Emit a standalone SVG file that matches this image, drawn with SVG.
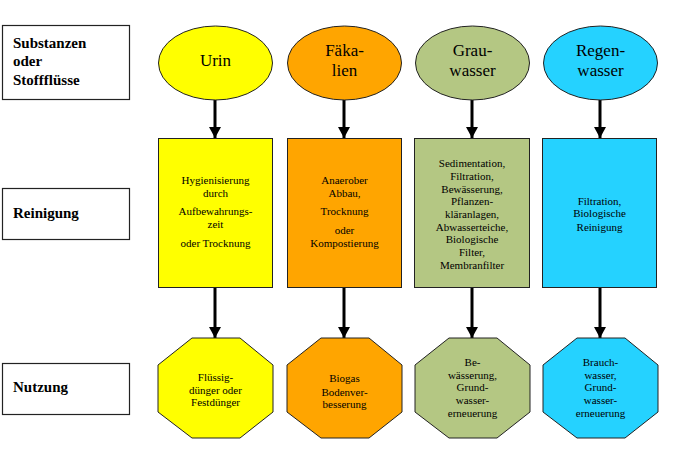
<svg xmlns="http://www.w3.org/2000/svg" width="685" height="463" viewBox="0 0 685 463" font-family="Liberation Serif, Times New Roman, serif">
<defs>
<style>
.lab{fill:#fff;stroke:#222;stroke-width:1.2}
.lt{font-weight:bold;font-size:15px;fill:#000}
.sh{stroke:#222;stroke-width:1}
.et{font-size:17px;fill:#000;text-anchor:middle}
.st{font-size:11px;fill:#000;text-anchor:middle}
.y{fill:#FFFF00}.o{fill:#FFA500}.g{fill:#B4C783}.c{fill:#25D2FF}
.conn line{stroke:#000;stroke-width:3}
</style>
<marker id="ah" viewBox="0 0 11 12" refX="11" refY="6" markerWidth="11" markerHeight="12" markerUnits="userSpaceOnUse" orient="auto">
<path d="M0,0 L11,6 L0,12 Z" fill="#000"/>
</marker>
</defs>
<rect width="685" height="463" fill="#fff"/>

<g id="label-substanzen"><rect class="lab" x="2.5" y="25.5" width="127" height="74"/>
<text class="lt" x="13" y="48">Substanzen</text><text class="lt" x="13" y="66">oder</text><text class="lt" x="13" y="85">Stoffflüsse</text></g>
<g id="label-reinigung"><rect class="lab" x="2.5" y="188.5" width="127" height="51"/>
<text class="lt" x="13" y="218">Reinigung</text></g>
<g id="label-nutzung"><rect class="lab" x="2.5" y="363.5" width="127" height="51"/>
<text class="lt" x="13" y="392">Nutzung</text></g>

<g class="conn" id="connectors">
<line x1="215" y1="100" x2="215" y2="138" marker-end="url(#ah)"/>
<line x1="344" y1="100" x2="344" y2="138" marker-end="url(#ah)"/>
<line x1="472" y1="100" x2="472" y2="138" marker-end="url(#ah)"/>
<line x1="600" y1="100" x2="600" y2="138" marker-end="url(#ah)"/>
<line x1="215" y1="288" x2="215" y2="338" marker-end="url(#ah)"/>
<line x1="344" y1="288" x2="344" y2="338" marker-end="url(#ah)"/>
<line x1="472" y1="288" x2="472" y2="338" marker-end="url(#ah)"/>
<line x1="600" y1="288" x2="600" y2="338" marker-end="url(#ah)"/>
</g>

<g id="urin"><ellipse class="sh y" cx="215.5" cy="63" rx="57" ry="37"/><text class="et" x="215.5" y="66">Urin</text></g>
<g id="faekalien"><ellipse class="sh o" cx="344.5" cy="63" rx="57" ry="37"/><text class="et" x="344.5" y="56">Fäka-</text><text class="et" x="344.5" y="76">lien</text></g>
<g id="grauwasser"><ellipse class="sh g" cx="472.5" cy="63" rx="57" ry="37"/><text class="et" x="472.5" y="56">Grau-</text><text class="et" x="472.5" y="76">wasser</text></g>
<g id="regenwasser"><ellipse class="sh c" cx="600.5" cy="63" rx="57" ry="37"/><text class="et" x="600.5" y="56">Regen-</text><text class="et" x="600.5" y="76">wasser</text></g>

<g id="reinigung-urin"><rect class="sh y" x="158.5" y="138.5" width="114" height="149"/>
<text class="st" x="215.5" y="184">Hygienisierung</text><text class="st" x="215.5" y="197">durch</text><text class="st" x="215.5" y="215">Aufbewahrungs-</text><text class="st" x="215.5" y="228">zeit</text><text class="st" x="215.5" y="247">oder Trocknung</text></g>
<g id="reinigung-faekalien"><rect class="sh o" x="287.5" y="138.5" width="114" height="149"/>
<text class="st" x="344.5" y="184">Anaerober</text><text class="st" x="344.5" y="197">Abbau,</text><text class="st" x="344.5" y="215">Trocknung</text><text class="st" x="344.5" y="234">oder</text><text class="st" x="344.5" y="247">Kompostierung</text></g>
<g id="reinigung-grauwasser"><rect class="sh g" x="414.5" y="138.5" width="115" height="149"/>
<text class="st" x="472" y="166.5">Sedimentation,</text><text class="st" x="472" y="179.5">Filtration,</text><text class="st" x="472" y="192.5">Bewässerung,</text><text class="st" x="472" y="205">Pflanzen-</text><text class="st" x="472" y="218">kläranlagen,</text><text class="st" x="472" y="230.5">Abwasserteiche,</text><text class="st" x="472" y="243">Biologische</text><text class="st" x="472" y="256">Filter,</text><text class="st" x="472" y="268.5">Membranfilter</text></g>
<g id="reinigung-regenwasser"><rect class="sh c" x="542.5" y="138.5" width="114" height="149"/>
<text class="st" x="599.5" y="204.5">Filtration,</text><text class="st" x="599.5" y="217">Biologische</text><text class="st" x="599.5" y="230.5">Reinigung</text></g>

<g id="nutzung-urin" transform="translate(158,338)"><polygon class="sh y" points="34,0 82,0 115,27 115,74 82,100 34,100 0,74 0,27"/>
<text class="st" x="57.5" y="42.5">Flüssig-</text><text class="st" x="57.5" y="56">dünger oder</text><text class="st" x="57.5" y="68">Festdünger</text></g>
<g id="nutzung-faekalien" transform="translate(287,338)"><polygon class="sh o" points="34,0 82,0 115,27 115,74 82,100 34,100 0,74 0,27"/>
<text class="st" x="57.5" y="44">Biogas</text><text class="st" x="57.5" y="57.5">Bodenver-</text><text class="st" x="57.5" y="70">besserung</text></g>
<g id="nutzung-grauwasser" transform="translate(415,338)"><polygon class="sh g" points="34,0 82,0 115,27 115,74 82,100 34,100 0,74 0,27"/>
<text class="st" x="57.5" y="27.5">Be-</text><text class="st" x="57.5" y="41">wässerung,</text><text class="st" x="57.5" y="53">Grund-</text><text class="st" x="57.5" y="66">wasser-</text><text class="st" x="57.5" y="78.5">erneuerung</text></g>
<g id="nutzung-regenwasser" transform="translate(543,338)"><polygon class="sh c" points="34,0 82,0 115,27 115,74 82,100 34,100 0,74 0,27"/>
<text class="st" x="57.5" y="27.5">Brauch-</text><text class="st" x="57.5" y="41">wasser,</text><text class="st" x="57.5" y="53">Grund-</text><text class="st" x="57.5" y="66">wasser-</text><text class="st" x="57.5" y="78.5">erneuerung</text></g>
</svg>
